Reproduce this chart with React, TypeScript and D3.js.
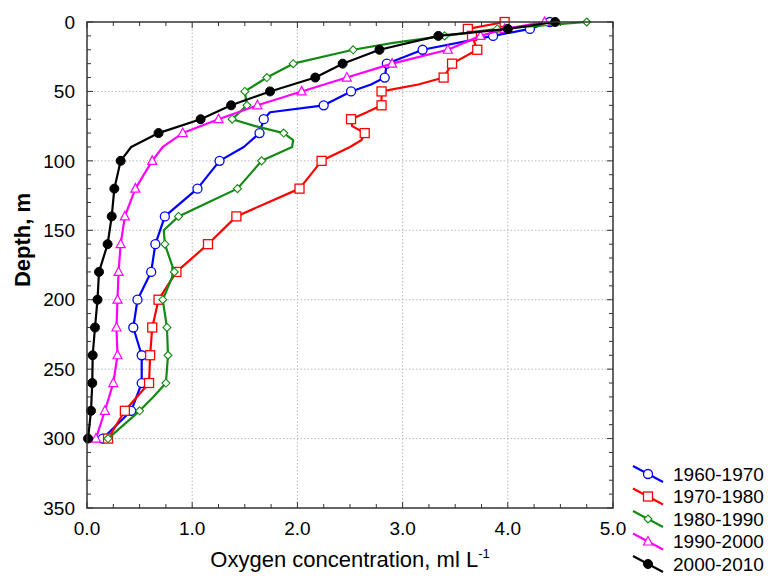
import React from 'react';
import * as d3 from 'd3';

// depth levels (m) and oxygen values (ml/L)
const blackDepth = [0, 5, 10, 20, 30, 40, 50, 60, 70, 80, 90, 100, 120, 140, 160, 180, 200, 220, 240, 260, 280, 300];
const blackO2 = [4.45, 4.0, 3.34, 2.78, 2.43, 2.17, 1.74, 1.37, 1.08, 0.68, 0.42, 0.32, 0.26, 0.235, 0.196, 0.114, 0.1, 0.076, 0.054, 0.05, 0.038, 0.01];

const magentaDepth = [0, 5, 10, 20, 30, 40, 50, 60, 70, 80, 90, 100, 120, 140, 160, 180, 200, 220, 240, 260, 280, 300];
const magentaO2 = [4.35, 3.97, 3.74, 3.43, 2.9, 2.47, 2.04, 1.62, 1.25, 0.91, 0.72, 0.62, 0.46, 0.36, 0.32, 0.3, 0.29, 0.28, 0.29, 0.25, 0.17, 0.085];

const blueDepth = [0, 5, 10, 20, 30, 40, 45, 50, 60, 65, 70, 80, 90, 100, 120, 140, 160, 180, 200, 220, 240, 260, 280, 300];
const blueO2 = [4.4, 4.21, 3.86, 3.19, 2.85, 2.83, 2.7, 2.51, 2.25, 1.74, 1.68, 1.64, 1.49, 1.26, 1.05, 0.74, 0.65, 0.61, 0.48, 0.44, 0.52, 0.52, 0.42, 0.15];

const redDepth = [0, 5, 10, 20, 30, 40, 45, 50, 60, 65, 70, 75, 80, 85, 90, 100, 120, 130, 140, 160, 180, 200, 220, 240, 260, 280, 300];
const redO2 = [3.97, 3.62, 3.66, 3.71, 3.47, 3.39, 3.15, 2.8, 2.8, 2.66, 2.51, 2.52, 2.64, 2.61, 2.5, 2.23, 2.02, 1.72, 1.42, 1.15, 0.85, 0.68, 0.62, 0.6, 0.59, 0.36, 0.2];

const greenDepth = [0, 5, 10, 15, 20, 30, 40, 50, 60, 65, 70, 75, 80, 85, 90, 100, 120, 130, 140, 150, 160, 180, 200, 220, 240, 260, 270, 280, 300];
const greenO2 = [4.75, 3.9, 3.4, 2.91, 2.53, 1.96, 1.71, 1.5, 1.52, 1.45, 1.38, 1.6, 1.87, 1.96, 1.95, 1.66, 1.43, 1.15, 0.87, 0.73, 0.74, 0.83, 0.72, 0.76, 0.77, 0.75, 0.63, 0.5, 0.2];

// depths that carry a symbol
const markDepths = [0, 5, 10, 20, 30, 40, 50, 60, 70, 80, 100, 120, 140, 160, 180, 200, 220, 240, 260, 280, 300];

const legendNames = ['1960-1970', '1970-1980', '1980-1990', '1990-2000', '2000-2010'];
const xTicks = [0, 1, 2, 3, 4, 5];
const yTicks = [0, 50, 100, 150, 200, 250, 300, 350];

const series = [
  { name: legendNames[0], depth: blueDepth, o2: blueO2, color: '#0000ff', symbol: 'circle' },
  { name: legendNames[1], depth: redDepth, o2: redO2, color: '#ff0000', symbol: 'square' },
  { name: legendNames[2], depth: greenDepth, o2: greenO2, color: '#138a13', symbol: 'diamond' },
  { name: legendNames[3], depth: magentaDepth, o2: magentaO2, color: '#ff00ff', symbol: 'triangle' },
  { name: legendNames[4], depth: blackDepth, o2: blackO2, color: '#000000', symbol: 'dot' },
];

function Marker({ x, y, symbol, color }: { x: number; y: number; symbol: string; color: string }) {
  if (symbol === 'circle') return <circle cx={x} cy={y} r={4.5} fill="white" stroke={color} strokeWidth={1.3} />;
  if (symbol === 'dot') return <circle cx={x} cy={y} r={4.5} fill={color} stroke={color} />;
  if (symbol === 'square') return <rect x={x - 4.5} y={y - 4.5} width={9} height={9} fill="white" stroke={color} strokeWidth={1.3} />;
  if (symbol === 'diamond')
    return <path d={`M${x},${y - 4}L${x + 4},${y}L${x},${y + 4}L${x - 4},${y}Z`} fill="white" stroke={color} strokeWidth={1.1} />;
  return <path d={`M${x},${y - 5}L${x + 4.5},${y + 3.5}L${x - 4.5},${y + 3.5}Z`} fill="white" stroke={color} strokeWidth={1.2} />;
}

export default function App() {
  const w = 771;
  const h = 578;
  const margin = { top: 22, right: 158, bottom: 70, left: 87 };
  const innerW = w - margin.left - margin.right;
  const innerH = h - margin.top - margin.bottom;

  const x = d3.scaleLinear().domain([0, 5]).range([margin.left, margin.left + innerW]);
  const y = d3.scaleLinear().domain([0, 350]).range([margin.top, margin.top + innerH]);

  const line = d3.line<[number, number]>()
    .x(d => d[0])
    .y(d => d[1]);

  const xMinor = d3.range(0, 5.001, 0.25);
  const yMinor = d3.range(0, 350.1, 10);
  const font = 'Arial, "Liberation Sans", sans-serif';
  const axisColor = '#333';

  const x0 = margin.left, x1 = margin.left + innerW, y0 = margin.top, y1 = margin.top + innerH;

  return (
    <svg width={w} height={h} style={{ position: 'absolute', left: 0, top: 0, background: 'white' }} fontFamily={font}>
      {/* grid */}
      {xTicks.slice(1, -1).map(t => (
        <line key={'gx' + t} x1={x(t)} x2={x(t)} y1={y0} y2={y1} stroke="#b8b8b8" strokeDasharray="1.5,2" />
      ))}
      {yTicks.slice(1, -1).map(t => (
        <line key={'gy' + t} x1={x0} x2={x1} y1={y(t)} y2={y(t)} stroke="#b8b8b8" strokeDasharray="1.5,2" />
      ))}

      {/* ticks, inward on all four sides */}
      {xMinor.map(t => {
        const len = Math.abs(t - Math.round(t)) < 1e-6 ? 6 : 4;
        return (
          <g key={'tx' + t} stroke={axisColor}>
            <line x1={x(t)} x2={x(t)} y1={y1} y2={y1 - len} />
            <line x1={x(t)} x2={x(t)} y1={y0} y2={y0 + len} />
          </g>
        );
      })}
      {yMinor.map(t => {
        const len = t % 50 === 0 ? 6 : 4;
        return (
          <g key={'ty' + t} stroke={axisColor}>
            <line x1={x0} x2={x0 + len} y1={y(t)} y2={y(t)} />
            <line x1={x1} x2={x1 - len} y1={y(t)} y2={y(t)} />
          </g>
        );
      })}

      {/* profiles */}
      {series.map(s => {
        const pts = s.depth.map((d, i) => [x(s.o2[i]), y(d)] as [number, number]);
        return (
          <g key={s.name}>
            <path d={line(pts) || ''} fill="none" stroke={s.color} strokeWidth={2.2} strokeLinejoin="round" />
            {s.depth.map((d, i) =>
              markDepths.includes(d) ? <Marker key={d} x={x(s.o2[i])} y={y(d)} symbol={s.symbol} color={s.color} /> : null
            )}
          </g>
        );
      })}

      {/* frame */}
      <rect x={x0} y={y0} width={innerW} height={innerH} fill="none" stroke={axisColor} strokeWidth={1.5} />

      {/* tick labels */}
      {xTicks.map(t => (
        <text key={'lx' + t} x={x(t)} y={y1 + 27} textAnchor="middle" fontSize={19}>{t.toFixed(1)}</text>
      ))}
      {yTicks.map(t => (
        <text key={'ly' + t} x={x0 - 12} y={y(t)} dy="0.35em" textAnchor="end" fontSize={19}>{t}</text>
      ))}

      {/* axis titles */}
      <text x={(x0 + x1) / 2} y={567} textAnchor="middle" fontSize={22}>
        Oxygen concentration, ml L<tspan fontSize={13} dy={-9}>-1</tspan>
      </text>
      <text transform={`translate(30, 240) rotate(-90)`} textAnchor="middle" fontSize={22} fontWeight="bold">Depth, m</text>

      {/* legend */}
      {series.map((s, i) => {
        const cy = 474 + i * 22.5;
        return (
          <g key={'lg' + s.name}>
            <line x1={633} y1={cy - 8} x2={663} y2={cy + 8} stroke={s.color} strokeWidth={2.2} />
            <Marker x={648} y={cy} symbol={s.symbol} color={s.color} />
            <text x={673} y={cy} dy="0.35em" fontSize={19}>{s.name}</text>
          </g>
        );
      })}
    </svg>
  );
}
